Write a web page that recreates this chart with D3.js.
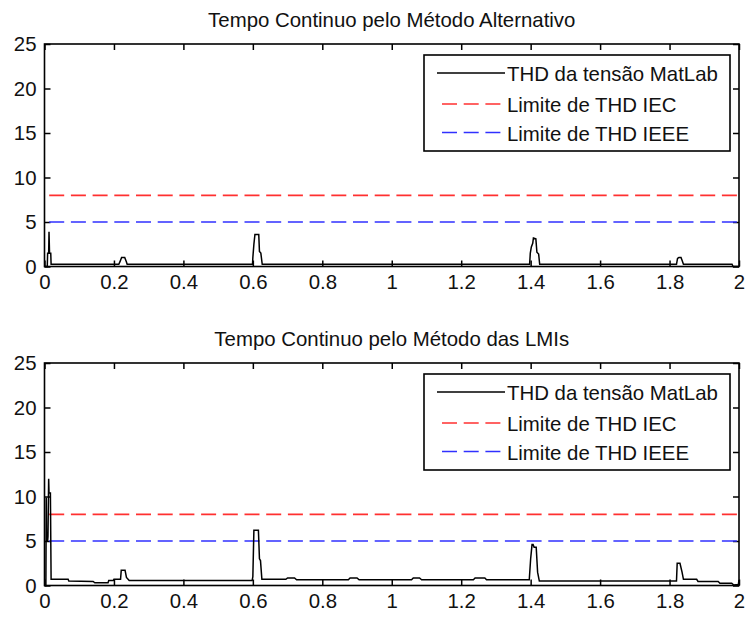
<!DOCTYPE html>
<html>
	<head>
		<meta charset="utf-8">
		<title>THD - Tempo Continuo</title>
		<style type="text/css">
			body{
				margin: 0;
				background: #fff;
			}
			#board text{
				font-family: "Liberation Sans", Arial, sans-serif;
				fill: #111;
			}
		</style>
	</head>
	<body>
		<div id="board"></div>

	<script type="text/javascript" src="https://cdn.jsdelivr.net/npm/d3@7/dist/d3.min.js"></script>
	<script>
		// data
		var titles = [ 'Tempo Continuo pelo Método Alternativo', 'Tempo Continuo pelo Método das LMIs' ];
		var legendLabels = [ 'THD da tensão MatLab', 'Limite de THD IEC', 'Limite de THD IEEE' ];
		var xTicks = [ 0, 0.2, 0.4, 0.6, 0.8, 1, 1.2, 1.4, 1.6, 1.8, 2 ];
		var xTickLabels = [ '0', '0.2', '0.4', '0.6', '0.8', '1', '1.2', '1.4', '1.6', '1.8', '2' ];
		var yTicks = [ 0, 5, 10, 15, 20, 25 ];
		var limitIEC = 8;
		var limitIEEE = 5;

		var timeAlt = [ 0, 0.008, 0.009, 0.012, 0.013, 0.0145, 0.018, 0.019,
			0.214, 0.218, 0.222, 0.231, 0.236, 0.238,
			0.599, 0.600, 0.603, 0.606, 0.617, 0.619, 0.623, 0.627,
			1.397, 1.399, 1.402, 1.406, 1.408, 1.415, 1.418, 1.423, 1.426,
			1.820, 1.823, 1.827, 1.833, 1.837, 1.840,
			1.980, 1.983, 2.0 ];
		var thdAlt = [ 0, 0, 1.5, 1.5, 3.9, 1.5, 1.5, 0.25,
			0.25, 0.6, 1.0, 1.0, 0.5, 0.25,
			0.25, 1.0, 2.5, 3.6, 3.6, 1.7, 1.5, 0.25,
			0.25, 1.5, 2.2, 2.6, 3.2, 3.1, 1.6, 1.4, 0.25,
			0.25, 0.9, 1.0, 1.0, 0.6, 0.25,
			0.25, 0, 0 ];

		var timeLmi = [ 0, 0.004, 0.005, 0.006, 0.009, 0.010, 0.012, 0.013, 0.017, 0.019,
			0.068, 0.070, 0.140, 0.145, 0.183, 0.185, 0.198, 0.200, 0.219, 0.221, 0.232, 0.236, 0.244,
			0.598, 0.600, 0.603, 0.616, 0.619, 0.622, 0.626,
			0.695, 0.700, 0.720, 0.726, 0.875, 0.880, 0.900, 0.906,
			1.057, 1.062, 1.080, 1.086, 1.235, 1.240, 1.268, 1.273,
			1.396, 1.400, 1.404, 1.407, 1.410, 1.416, 1.420, 1.425,
			1.820, 1.822, 1.830, 1.836, 1.840, 1.878, 1.882, 1.940, 1.945, 1.979, 1.985, 1.998, 2.0 ];
		var thdLmi = [ 0, 0, 9.9, 5.0, 5.0, 5.5, 12.0, 10.4, 10.4, 0.7,
			0.7, 0.5, 0.45, 0.3, 0.3, 0.55, 0.55, 0.7, 0.7, 1.7, 1.7, 0.9, 0.55,
			0.55, 1.0, 6.2, 6.2, 3.0, 2.8, 0.7,
			0.7, 0.85, 0.85, 0.65, 0.65, 0.85, 0.85, 0.65,
			0.65, 0.85, 0.85, 0.65, 0.65, 0.85, 0.85, 0.65,
			0.65, 3.0, 4.6, 4.6, 4.3, 4.3, 1.5, 0.5,
			0.5, 2.5, 2.5, 1.5, 0.7, 0.7, 0.45, 0.45, 0.25, 0.25, 0.05, 0.1, 0.6 ];

		var W = 747, H = 617;
		var left = 44.5, right = 739;
		var panelTop = [ 44, 363 ];
		var panelH = 222.5;

		var svg = d3.select('#board').append('svg')
				.attr('width', W).attr('height', H);
		svg.append('rect').attr('width', W).attr('height', H).style('fill', '#fff');

		var x = d3.scaleLinear().domain([0, 2]).range([left, right]);

		function drawPanel( top, title, times, values ){
			var y = d3.scaleLinear().domain([0, 25]).range([top + panelH, top]);
			var g = svg.append('g');

			// inward ticks on all four sides
			g.append('g')
				.attr('transform', 'translate(0,' + (top + panelH) + ')')
				.call(d3.axisBottom(x).tickValues(xTicks).tickSize(-6).tickSizeOuter(0).tickPadding(8)
					.tickFormat(function(d, i){ return xTickLabels[i]; }));
			g.append('g')
				.attr('transform', 'translate(0,' + top + ')')
				.call(d3.axisTop(x).tickValues(xTicks).tickSize(-6).tickSizeOuter(0).tickFormat(''));
			g.append('g')
				.attr('transform', 'translate(' + left + ',0)')
				.call(d3.axisLeft(y).tickValues(yTicks).tickSize(-6).tickSizeOuter(0).tickPadding(8));
			g.append('g')
				.attr('transform', 'translate(' + right + ',0)')
				.call(d3.axisRight(y).tickValues(yTicks).tickSize(-6).tickSizeOuter(0).tickFormat(''));
			g.selectAll('.domain').remove();
			g.selectAll('.tick line').style('stroke', '#000').style('stroke-width', 1.5);
			g.selectAll('.tick text').style('font-size', '20.4px');

			// limit lines
			var limLine = d3.line()
				.x(function(d){ return x(d[0]); })
				.y(function(d){ return y(d[1]); });
			g.append('path')
				.datum([[0, limitIEC], [2, limitIEC]])
				.attr('d', limLine)
				.style('fill', 'none').style('stroke', '#ff3030').style('stroke-width', 1.7)
				.style('stroke-dasharray', '15,6.7').style('stroke-dashoffset', 17);
			g.append('path')
				.datum([[0, limitIEEE], [2, limitIEEE]])
				.attr('d', limLine)
				.style('fill', 'none').style('stroke', '#3030ff').style('stroke-width', 1.7)
				.style('stroke-dasharray', '15,6.7').style('stroke-dashoffset', 17);

			// THD series
			var pts = times.map(function(t, i){ return [t, values[i]]; });
			g.append('path')
				.datum(pts)
				.attr('d', limLine)
				.style('fill', 'none').style('stroke', '#000').style('stroke-width', 1.5)
				.style('stroke-linejoin', 'miter');

			// frame
			g.append('rect')
				.attr('x', left).attr('y', top)
				.attr('width', right - left).attr('height', panelH)
				.style('fill', 'none').style('stroke', '#000').style('stroke-width', 1.6);

			// title
			g.append('text')
				.attr('x', (left + right) / 2).attr('y', top - 17)
				.attr('text-anchor', 'middle')
				.style('font-size', '20.4px')
				.text(title);

			// legend
			var lg = g.append('g').attr('transform', 'translate(424,' + (top + 11) + ')');
			lg.append('rect')
				.attr('width', 306).attr('height', 96)
				.style('fill', '#fff').style('stroke', '#000').style('stroke-width', 1.6);
			var rows = [
				{ y: 18, color: '#000', dash: null, x0: 13 },
				{ y: 49, color: '#ff3030', dash: '15,6.7', x0: 18 },
				{ y: 77.5, color: '#3030ff', dash: '15,6.7', x0: 18 }
			];
			rows.forEach(function(r, i){
				lg.append('line')
					.attr('x1', r.x0).attr('x2', 81)
					.attr('y1', r.y).attr('y2', r.y)
					.style('stroke', r.color).style('stroke-width', i == 0 ? 1.5 : 1.7)
					.style('stroke-dasharray', r.dash);
				lg.append('text')
					.attr('x', 83).attr('y', r.y + 8)
					.style('font-size', '20.4px')
					.text(legendLabels[i]);
			});
		}

		drawPanel( panelTop[0], titles[0], timeAlt, thdAlt );
		drawPanel( panelTop[1], titles[1], timeLmi, thdLmi );
	</script>
	</body>
</html>
